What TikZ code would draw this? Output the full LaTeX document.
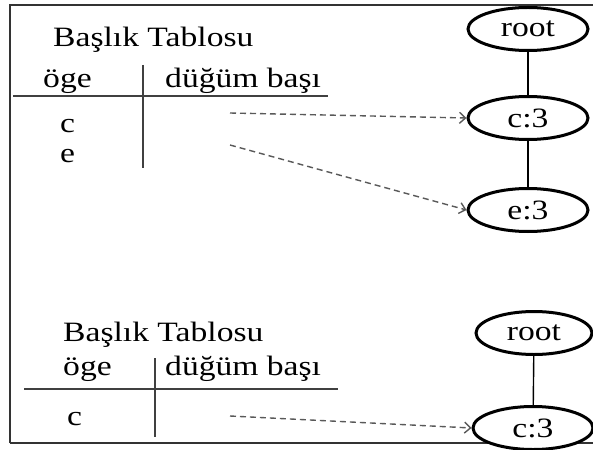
\documentclass[tikz,border=0pt]{standalone}
\usepackage{fontspec}
\setmainfont{Liberation Serif}[FakeStretch=1.2]
\usetikzlibrary{shapes.geometric,arrows.meta}
\begin{document}
\begin{tikzpicture}[x=1pt,y=-1pt,
  txt/.style={inner sep=0pt,anchor=base west,font=\fontsize{28}{33}\selectfont},
  tnode/.style={ellipse,draw=black,line width=3pt,fill=white,minimum width=120pt,minimum height=43pt,inner sep=0pt,font=\fontsize{28}{33}\selectfont},
  tline/.style={draw=black!75,line width=1.5pt},
  edge/.style={draw=black,line width=1.4pt},
  ptr/.style={draw=black!65,line width=1.4pt,dash pattern=on 6pt off 4pt,-{Straight Barb[length=6pt,width=11pt]}},
  frame/.style={draw=black!80,line width=1.5pt}]
\useasboundingbox (0,0) rectangle (593,449);
\fill[white] (0,0) rectangle (593,449);
% frame
\draw[frame] (10,443) -- (10,5) -- (594,5);
\draw[frame] (10,443) -- (594,443);
% ---------- top part ----------
\node[txt] (t1) at (53,47) {Başlık Tablosu};
\node[txt] (h1a) at (43,88) {öge};
\node[txt] (h1b) at (165,88) {düğüm başı};
\node[txt] (i1c) at (60,132) {c};
\node[txt] (i1e) at (60,162) {e};
\coordinate (hl1a) at (13,96);
\coordinate (hl1b) at (328,96);
\coordinate (vl1a) at (143,65);
\coordinate (vl1b) at (143,168);
\draw[tline] (hl1a) -- (hl1b);
\draw[tline] (vl1a) -- (vl1b);
\node[tnode] (r1) at (528,29) {root};
\node[tnode] (c1) at (528,118) {c:3};
\node[tnode] (e1) at (528,210) {e:3};
\draw[edge] (r1) -- (c1);
\draw[edge] (c1) -- (e1);
\coordinate (p1c) at (230,113);
\coordinate (p1e) at (230,145);
\draw[ptr] (p1c) -- (c1.west);
\draw[ptr] (p1e) -- (e1.west);
% ---------- bottom part ----------
\node[txt] (t2) at (63,341) {Başlık Tablosu};
\node[txt] (h2a) at (63,375) {öge};
\node[txt] (h2b) at (165,375) {düğüm başı};
\node[txt] (i2c) at (67,425) {c};
\coordinate (hl2a) at (24,389);
\coordinate (hl2b) at (338,389);
\coordinate (vl2a) at (155,358);
\coordinate (vl2b) at (155,437);
\draw[tline] (hl2a) -- (hl2b);
\draw[tline] (vl2a) -- (vl2b);
\node[tnode,minimum width=116pt] (r2) at (534,333) {root};
\node[tnode,minimum width=120pt] (c2) at (533,428) {c:3};
\draw[edge] (r2) -- (c2);
\coordinate (p2c) at (230,416);
\draw[ptr] (p2c) -- (c2.west);
\end{tikzpicture}
\end{document}
